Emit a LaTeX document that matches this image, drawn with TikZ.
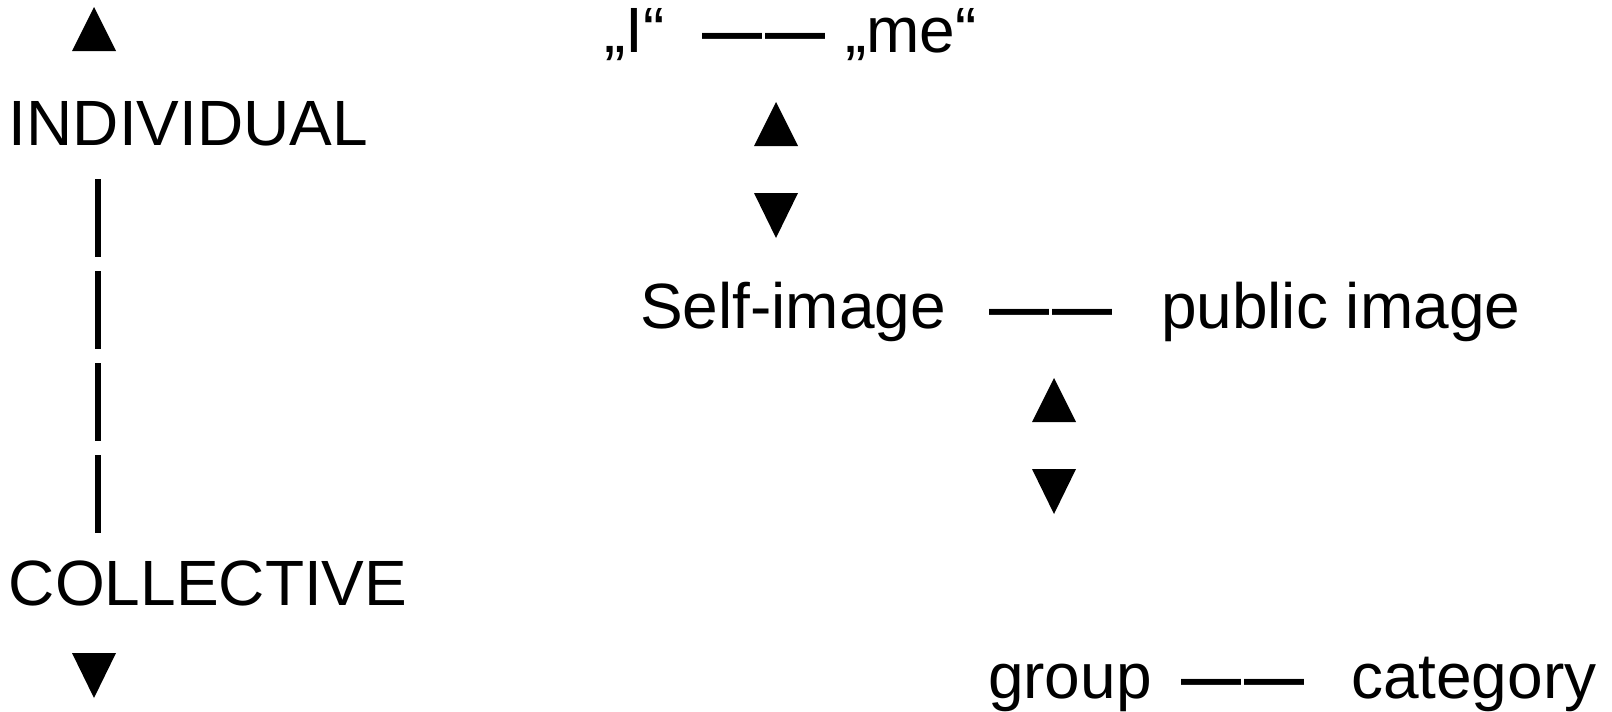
\documentclass[tikz,border=0pt]{standalone}
\usepackage{fontspec}
\setmainfont{Liberation Sans}
\begin{document}
\begin{tikzpicture}[x=1pt,y=-1pt,
  lbl/.style={anchor=base west,inner sep=0pt,outer sep=0pt,font=\fontsize{64}{77}\selectfont},
  dashlbl/.style={anchor=base west,inner sep=0pt,outer sep=0pt,font=\fontsize{60}{72}\selectfont\bfseries},
  tri/.style={fill=black},
  bar/.style={line width=6pt}]
\fill[white] (0,0) rectangle (1612,712);
\useasboundingbox (0,0) rectangle (1612,712);
% left axis
\fill[tri] (72,51) -- (116,51) -- (94,7) -- cycle;
\node[lbl] (ind) at (9,145) {INDIVIDUAL};
\draw[bar] (98,179) -- (98,257);
\draw[bar] (98,271) -- (98,349);
\draw[bar] (98,363) -- (98,441);
\draw[bar] (98,455) -- (98,533);
\node[lbl] (col) at (9,605) {COLLECTIVE};
\fill[tri] (72,653) -- (116,653) -- (94,698) -- cycle;
% top line
\node[lbl] (i) at (604,52) {„I“};
\node[dashlbl] (d1) at (702,52) {—\kern4pt—};
\node[lbl] (me) at (845,52) {„me“};
\fill[tri] (754,146) -- (798,146) -- (776,102) -- cycle;
\fill[tri] (754,193) -- (798,193) -- (776,238) -- cycle;
% middle line
\node[lbl] (self) at (640,328) {Self-image};
\node[dashlbl] (d2) at (989,328) {—\kern4pt—};
\node[lbl] (pub) at (1161,328) {public image};
\fill[tri] (1032,422) -- (1076,422) -- (1054,378) -- cycle;
\fill[tri] (1032,469) -- (1076,469) -- (1054,514) -- cycle;
% bottom line
\node[lbl] (grp) at (988,698) {group};
\node[dashlbl] (d3) at (1181,698) {—\kern4pt—};
\node[lbl] (cat) at (1351,698) {category};
\end{tikzpicture}
\end{document}
